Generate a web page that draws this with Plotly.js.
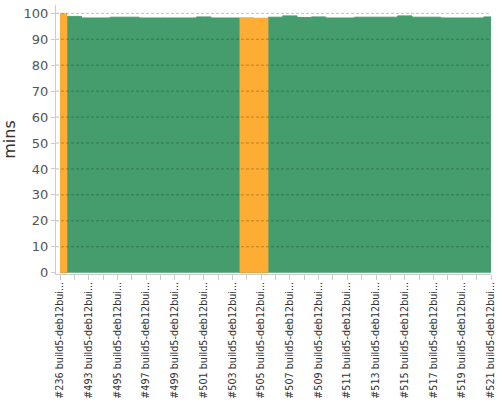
<!DOCTYPE html>
<html>
<head>
<meta charset="utf-8">
<script src="https://cdn.plot.ly/plotly-3.0.1.min.js"></script>
<style>html,body{margin:0;padding:0;background:#fff;}#chart{width:500px;height:400px;}</style>
</head>
<body>
<div id="chart"></div>
<script>
// Build labels (as shown, truncated)
const builds = ["#236","#492","#493","#494","#495","#496","#497","#498","#499","#500",
  "#501","#502","#503","#504","#505","#506","#507","#508","#509","#510",
  "#511","#512","#513","#514","#515","#516","#517","#518","#519","#520","#521"];
const labelSuffix = " build5-deb12bui...";
// Duration in minutes, split by build result (0 where the build had the other result)
const successMins = [0,98.8,98.2,98.2,98.5,98.5,98.2,98.2,98.2,98.2,
  98.6,98.2,98.2,0,0,98.5,99.0,98.4,98.6,98.2,
  98.2,98.5,98.5,98.5,99.0,98.5,98.5,98.2,98.2,98.2,98.6];
const unstableMins = [100,0,0,0,0,0,0,0,0,0,
  0,0,0,98.5,98.3,0,0,0,0,0,
  0,0,0,0,0,0,0,0,0,0,0];
const yTicks = [0,10,20,30,40,50,60,70,80,90,100];

const cats = builds.map(b => b + labelSuffix);
const tickText = cats.map((c, i) => (i % 2 === 0 ? c : ""));

const traces = [
  {x: cats, y: successMins, type: "scatter", mode: "lines", fill: "tozeroy",
   line: {shape: "hvh", width: 1, color: "#459d6e"}, fillcolor: "#459d6e", hoverinfo: "skip"},
  {x: cats, y: unstableMins, type: "scatter", mode: "lines", fill: "tozeroy",
   line: {shape: "hvh", width: 0, color: "#fdac34"}, fillcolor: "#fdac34", hoverinfo: "skip"}
];

const gridShapes = yTicks.filter(v => v > 0).map(v => ({
  type: "line", xref: "paper", x0: 0, x1: 1, yref: "y", y0: v, y1: v,
  layer: "above", line: {color: "rgba(0,0,0,0.25)", width: 1, dash: "3px,2px"}
}));

const layout = {
  width: 500, height: 400,
  margin: {l: 55.5, r: 9, t: 5, b: 125.5},
  paper_bgcolor: "#fff", plot_bgcolor: "#fff",
  showlegend: false,
  font: {family: "DejaVu Sans", color: "#555"},
  xaxis: {
    type: "category", range: [-0.28, 30],
    tickmode: "array", tickvals: cats, ticktext: tickText,
    tickangle: -90, tickfont: {size: 9.6, color: "#333"},
    ticks: "outside", ticklen: 5, tickcolor: "#ccc", ticklabelstandoff: -2,
    showline: true, linecolor: "#ccc", showgrid: false, zeroline: false
  },
  yaxis: {
    range: [-0.5, 103.2], tickvals: yTicks,
    tickfont: {size: 13, color: "#555"},
    ticks: "outside", ticklen: 4, tickcolor: "#ccc",
    showline: true, linecolor: "#ccc", showgrid: false, zeroline: false,
    title: {text: "mins", font: {size: 16, color: "#333"}, standoff: 6}
  },
  shapes: gridShapes
};

Plotly.newPlot("chart", traces, layout, {displayModeBar: false, staticPlot: true});
</script>
</body>
</html>
